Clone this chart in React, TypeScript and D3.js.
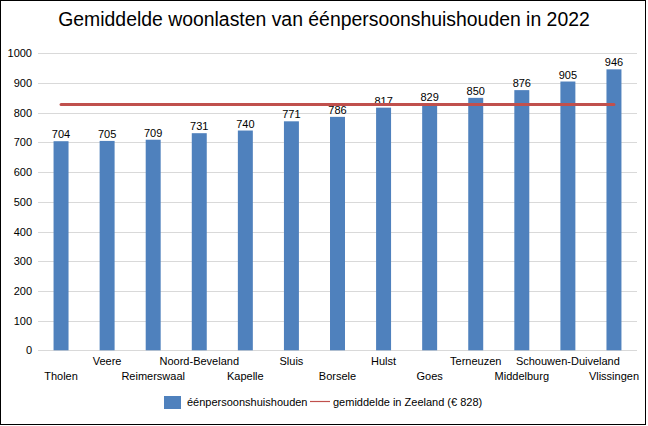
import React from "react";
import * as d3 from "d3";

const categories = ["Tholen", "Veere", "Reimerswaal", "Noord-Beveland", "Kapelle", "Sluis", "Borsele", "Hulst", "Goes", "Terneuzen", "Middelburg", "Schouwen-Duiveland", "Vlissingen"];
const values = [704, 705, 709, 731, 740, 771, 786, 817, 829, 850, 876, 905, 946];
const average = 828;
const yTicks = [0, 100, 200, 300, 400, 500, 600, 700, 800, 900, 1000];
const title = "Gemiddelde woonlasten van éénpersoonshuishouden in 2022";
const seriesName = "éénpersoonshuishouden";
const averageName = "gemiddelde in Zeeland (€ 828)";

const W = 648;
const H = 426;
const FONT = "'Liberation Sans', Arial, sans-serif";

export default function App() {
  const x = d3.scaleBand<string>().domain(categories).range([38, 637]).paddingInner(0.675).paddingOuter(0.3375);
  const xc = d3.scalePoint<string>().domain(categories).range([38, 637]).padding(0.5);
  const y = d3.scaleLinear().domain([0, 1000]).range([350.3, 53.3]);
  const bw = x.bandwidth();

  return (
    <svg width={W} height={H} style={{ position: "absolute", left: 0, top: 0, background: "#fff" }} fontFamily={FONT}>
      <rect x={0} y={0} width={W} height={H} fill="#fff" />
      <rect x={0.5} y={0.5} width={645} height={424} fill="none" stroke="#000" strokeWidth={1} />
      <text x={324} y={26} textAnchor="middle" fontSize={19.4} fill="#000">{title}</text>
      {yTicks.map((t) => (
        <g key={t}>
          <line x1={38} x2={637} y1={Math.round(y(t)) + 0.5} y2={Math.round(y(t)) + 0.5} stroke="#d9d9d9" strokeWidth={1} />
          <text x={32} y={y(t) + 4} textAnchor="end" fontSize={11} fill="#000">{t}</text>
        </g>
      ))}
      {categories.map((c, i) => (
        <g key={c}>
          <rect x={x(c)} y={y(values[i])} width={bw} height={y(0) - y(values[i])} fill="#4f81bd" />
          <text x={xc(c)} y={y(values[i]) - 3} textAnchor="middle" fontSize={11} fill="#000">{values[i]}</text>
          <text x={xc(c)} y={i % 2 === 0 ? 380 : 365} textAnchor="middle" fontSize={11} fill="#000">{c}</text>
        </g>
      ))}
      <line x1={xc(categories[0])} x2={xc(categories[categories.length - 1])} y1={y(average)} y2={y(average)} stroke="#c0504d" strokeWidth={3} strokeLinecap="round" />
      <rect x={164} y={396} width={17} height={13} fill="#4f81bd" />
      <text x={187} y={406} fontSize={11} fill="#000">{seriesName}</text>
      <line x1={310} x2={330} y1={401.5} y2={401.5} stroke="#c0504d" strokeWidth={1.2} />
      <text x={333} y={406} fontSize={11} fill="#000">{averageName}</text>
    </svg>
  );
}
